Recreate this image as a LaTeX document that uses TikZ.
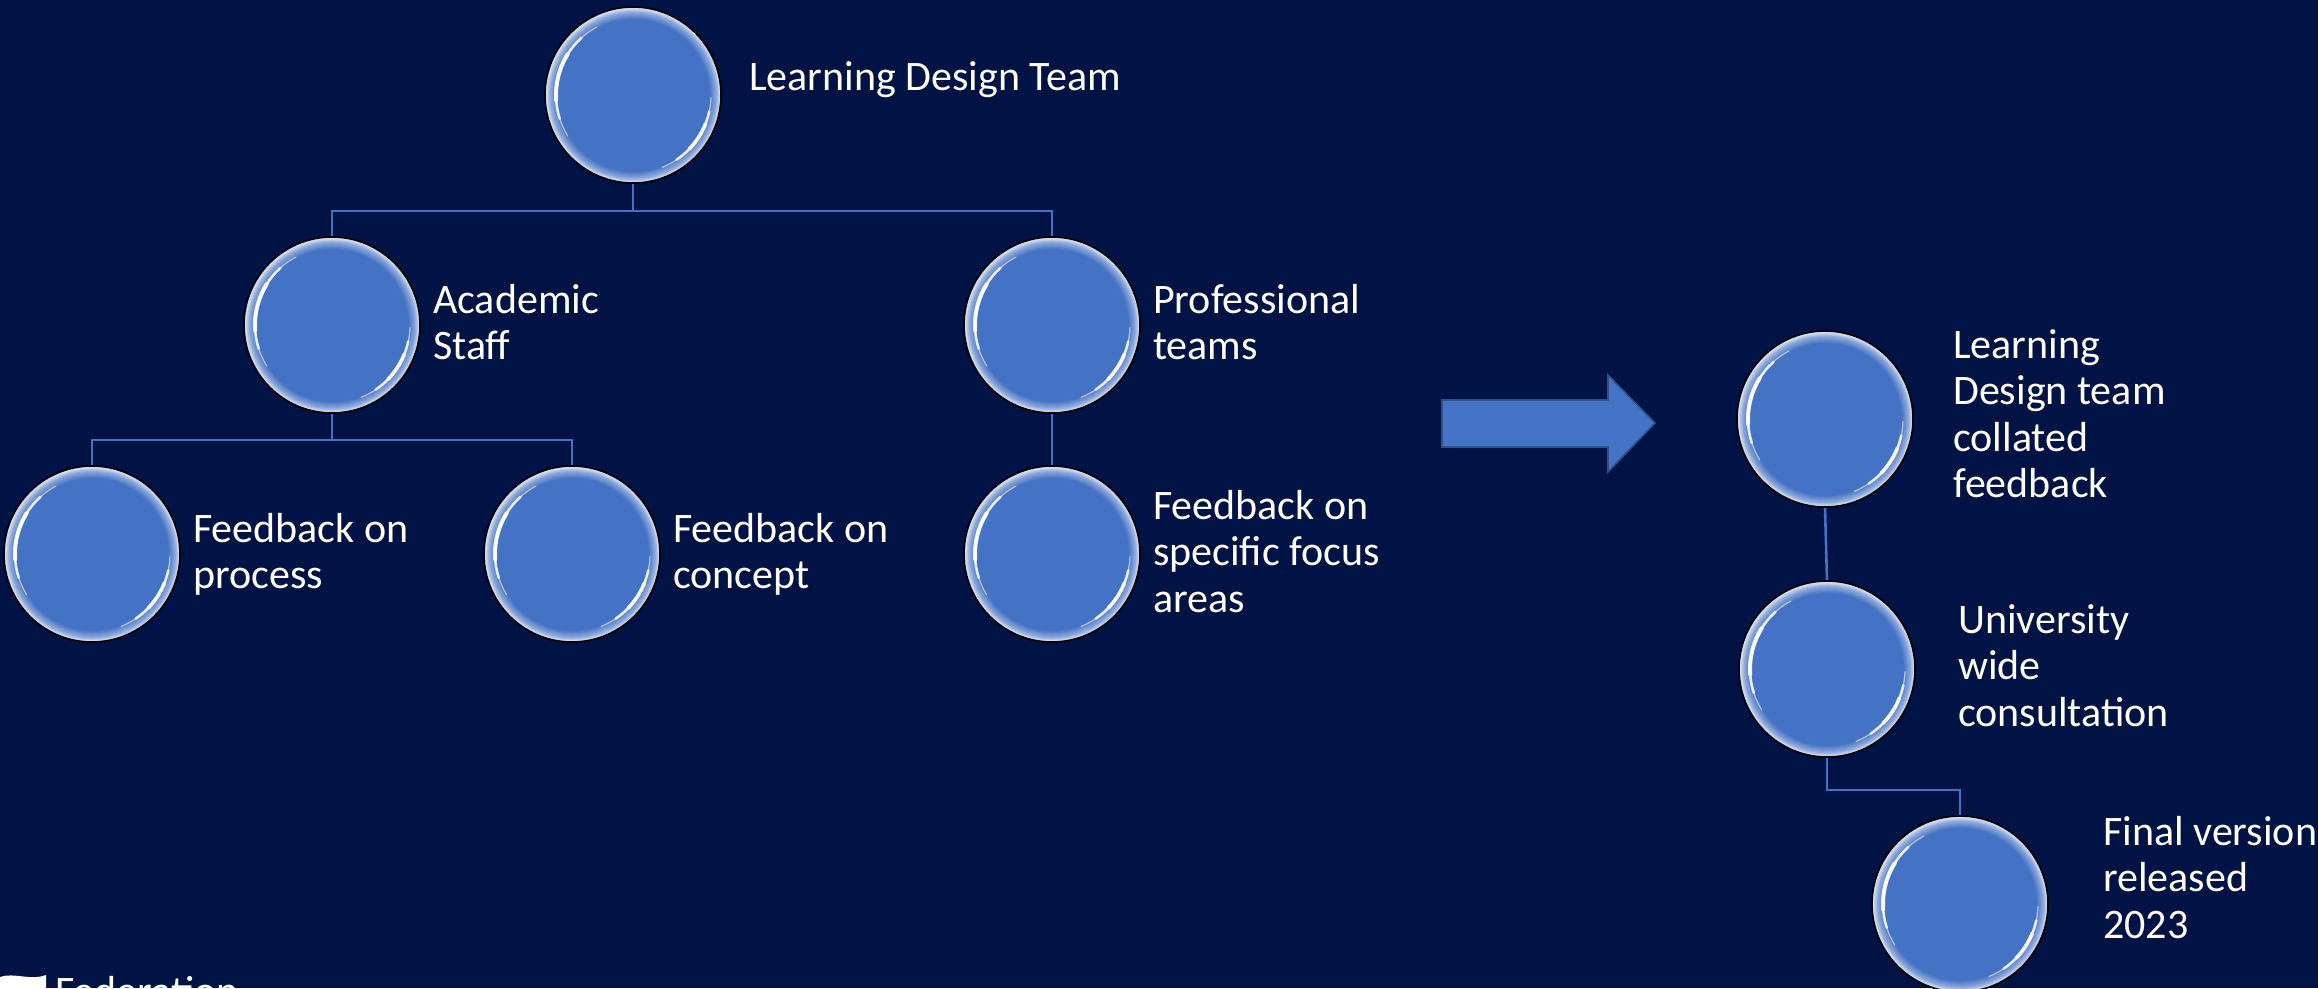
\documentclass[tikz,border=0pt]{standalone}
\usepackage{fontspec}
\setmainfont{Carlito}
\usetikzlibrary{calc}
\definecolor{bgnavy}{RGB}{0,19,68}
\definecolor{bubblue}{HTML}{4472C4}
\definecolor{bubrim}{HTML}{D2DCEF}
\definecolor{bubmid}{HTML}{8EA9DB}
\definecolor{arrowedge}{HTML}{2F4F8A}
\pgfdeclareradialshading{bubble}{\pgfpoint{0bp}{0bp}}{color(0bp)=(bubblue); color(21.6bp)=(bubblue); color(23.6bp)=(bubmid); color(24.6bp)=(bubrim); color(25bp)=(bubrim); color(50bp)=(bubrim)}
\pgfdeclarelayer{bg}
\pgfdeclarelayer{background}
\pgfsetlayers{bg,background,main}
\newcommand\lbltext[1]{\begin{tabular}[t]{@{}l@{}}#1\end{tabular}}
\tikzset{
  bubblenode/.style={circle, minimum size=176pt, inner sep=0pt, shading=bubble, draw=black, line width=1.6pt},
  lbl/.style={anchor=base west, inner sep=0pt, text=white, font=\fontsize{42}{46.5}\selectfont},
  conn/.style={draw=bubblue, line width=2.6pt},
  hl/.style={draw=white, line cap=round},
}
\newcommand\shine[1]{%
  \draw[hl, line width=1.2pt, opacity=.55] ([shift={(118:77pt)}]#1.center) arc[start angle=118, end angle=212, radius=77pt];
  \draw[hl, line width=2.6pt, opacity=.8] ([shift={(132:77pt)}]#1.center) arc[start angle=132, end angle=198, radius=77pt];
  \draw[hl, line width=4pt, opacity=.9] ([shift={(148:77pt)}]#1.center) arc[start angle=148, end angle=184, radius=77pt];
  \draw[hl, line width=1.2pt, opacity=.55] ([shift={(-2:78pt)}]#1.center) arc[start angle=-2, end angle=-68, radius=78pt];
  \draw[hl, line width=2.6pt, opacity=.8] ([shift={(-12:78pt)}]#1.center) arc[start angle=-12, end angle=-56, radius=78pt];
  \draw[hl, line width=3.6pt, opacity=.9] ([shift={(-22:78pt)}]#1.center) arc[start angle=-22, end angle=-44, radius=78pt];
}
\begin{document}
\begin{tikzpicture}[x=1pt,y=-1pt]
\useasboundingbox (0,0) rectangle (2318,988);
\clip (0,0) rectangle (2318,988);
\begin{pgfonlayer}{bg}
\fill[bgnavy] (0,0) rectangle (2318,988);
\end{pgfonlayer}

% circles
\node[bubblenode] (ldt)  at (633,95)  {};
\node[bubblenode] (acad) at (332,325) {};
\node[bubblenode] (prof) at (1052,325) {};
\node[bubblenode] (proc) at (92,554)  {};
\node[bubblenode] (conc) at (572,554) {};
\node[bubblenode] (foc)  at (1052,554) {};
\node[bubblenode] (coll) at (1825,419) {};
\node[bubblenode] (uni)  at (1827,669) {};
\node[bubblenode] (fin)  at (1960,904) {};
\foreach \n in {ldt,acad,prof,proc,conc,foc,coll,uni,fin}{\shine{\n}}

% labels
\node[lbl] (ldtT)  at (749,90)   {\lbltext{Learning Design Team}};
\node[lbl] (acadT) at (433,313)  {\lbltext{Academic\\Staff}};
\node[lbl] (profT) at (1153,313) {\lbltext{Professional\\teams}};
\node[lbl] (procT) at (193,542)  {\lbltext{Feedback on\\process}};
\node[lbl] (concT) at (673,542)  {\lbltext{Feedback on\\concept}};
\node[lbl] (focT)  at (1153,519) {\lbltext{Feedback on\\specific focus\\areas}};
\node[lbl] (collT) at (1953,358) {\lbltext{Learning\\Design team\\collated\\feedback}};
\node[lbl] (uniT)  at (1958,633) {\lbltext{University\\wide\\consultation}};
\node[lbl] (finT)  at (2103,845) {\lbltext{Final version\\released\\2023}};

% connectors
\begin{pgfonlayer}{background}
\coordinate (bar1) at (ldt.south |- 0,211);
\coordinate (bar2) at (acad.south |- 0,440);
\coordinate (bar3) at (uni.south |- 0,790);
\draw[conn] (ldt.south) -- (bar1) -| (acad.north);
\draw[conn] (bar1) -| (prof.north);
\draw[conn] (acad.south) -- (bar2) -| (proc.north);
\draw[conn] (bar2) -| (conc.north);
\draw[conn] (prof.south) -- (foc.north);
\draw[conn] (coll.south) -- (uni.north);
\draw[conn] (uni.south) -- (bar3) -| (fin.north);
\end{pgfonlayer}

% block arrow
\filldraw[fill=bubblue, draw=arrowedge, line width=1.6pt, line join=miter]
  (1442,400) -- (1608,400) -- (1608,375) -- (1655,423) -- (1608,472) -- (1608,447) -- (1442,447) -- cycle;

% cut-off logo at the bottom edge
\fill[white] (0,977) .. controls (14,972) and (30,981) .. (46,975) -- (46,990) -- (0,990) -- cycle;
\node[lbl] (logoT) at (55,1005) {Federation};
\end{tikzpicture}
\end{document}
